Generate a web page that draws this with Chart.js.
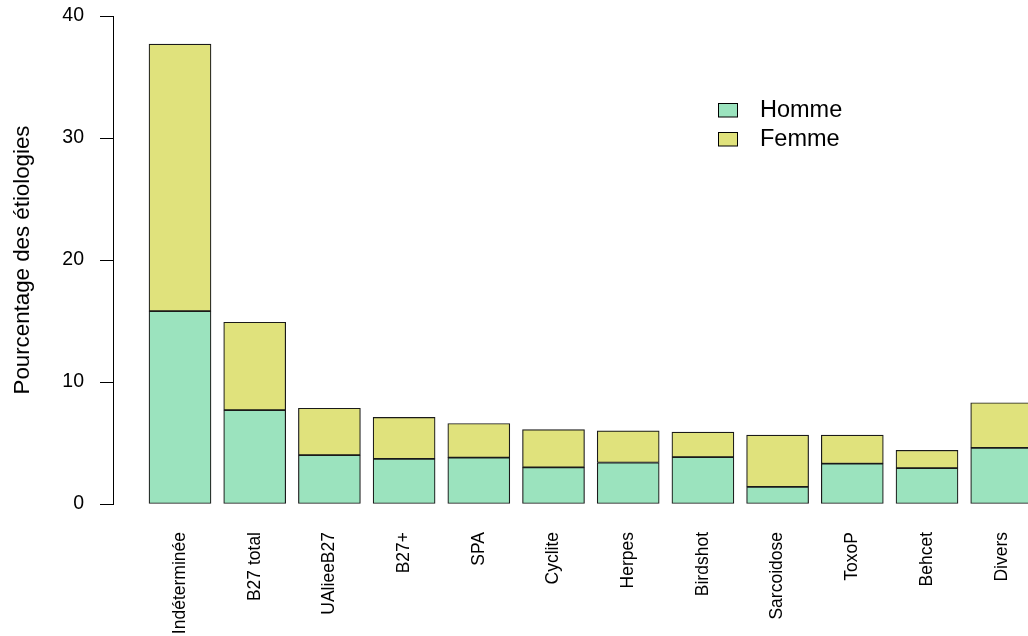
<!DOCTYPE html>
<html>
<head>
<meta charset="utf-8">
<script src="https://cdn.jsdelivr.net/npm/chart.js@4"></script>
<style>
  html, body { margin: 0; padding: 0; background: #fff; overflow: hidden; }
  #wrap { width: 1028px; height: 636px; position: relative; }
</style>
</head>
<body>
<div id="wrap"><canvas id="chart"></canvas></div>
<script>
// Étiologies par sexe — barres empilées (pourcentage)
const categories = ['Indéterminée', 'B27 total', 'UAlieeB27', 'B27+', 'SPA', 'Cyclite',
  'Herpes', 'Birdshot', 'Sarcoidose', 'ToxoP', 'Behcet', 'Divers'];
const homme = [15.8, 7.7, 4.0, 3.7, 3.8, 3.0, 3.4, 3.85, 1.4, 3.3, 2.95, 4.6];
const femme = [21.9, 7.2, 3.85, 3.4, 2.8, 3.1, 2.6, 2.05, 4.25, 2.35, 1.45, 3.7];
const yTicks = [0, 10, 20, 30, 40];

const FONT = 'Liberation Sans, Arial, sans-serif';
const GREEN = 'rgb(155,227,190)';
const YELLOW = 'rgb(224,226,124)';

// R-style legend drawn in the plot area
const legendPlugin = {
  id: 'rLegend',
  afterDraw(chart) {
    const ctx = chart.ctx;
    ctx.save();
    ctx.font = '23.5px ' + FONT;
    ctx.textBaseline = 'middle';
    chart.data.datasets.forEach((ds, i) => {
      const y = 110.5 + i * 29;
      ctx.fillStyle = ds.backgroundColor;
      ctx.fillRect(718.5, y - 7, 19, 13.5);
      ctx.strokeStyle = '#000';
      ctx.lineWidth = 1;
      ctx.strokeRect(718.5, y - 7, 19, 13.5);
      ctx.fillStyle = '#000';
      ctx.fillText(ds.label, 760, y);
    });
    ctx.restore();
  }
};

const toPoints = arr => arr.map((v, i) => ({ x: i, y: v }));

new Chart(document.getElementById('chart'), {
  type: 'bar',
  data: {
    datasets: [
      { label: 'Homme', data: toPoints(homme), backgroundColor: GREEN },
      { label: 'Femme', data: toPoints(femme), backgroundColor: YELLOW }
    ]
  },
  options: {
    responsive: true,
    maintainAspectRatio: false,
    animation: false,
    layout: { padding: { top: 16, right: 0, left: 0, bottom: 0 } },
    datasets: {
      bar: { barThickness: 62, borderColor: '#1a1a1a', borderWidth: 1.2, borderSkipped: false }
    },
    plugins: {
      legend: { display: false },
      tooltip: { enabled: false }
    },
    scales: {
      x: {
        type: 'linear',
        stacked: true,
        offset: false,
        min: -0.897,
        max: 11.352,
        grid: { display: false, drawTicks: false },
        border: { display: false },
        afterBuildTicks: s => { s.ticks = categories.map((_, i) => ({ value: i })); },
        afterFit: s => { s.height = 132; s.paddingLeft = 0; s.paddingRight = 0; },
        ticks: {
          autoSkip: false,
          minRotation: 90,
          maxRotation: 90,
          padding: 28,
          color: '#000',
          font: { family: FONT, size: 17.5 },
          callback: v => categories[v] ?? ''
        }
      },
      y: {
        stacked: true,
        min: 0,
        max: 40,
        afterBuildTicks: s => { s.ticks = yTicks.map(v => ({ value: v })); },
        afterFit: s => { s.width = 113; s.paddingTop = 0; s.paddingBottom = 0; },
        grid: { drawOnChartArea: false, drawTicks: true, tickLength: 13, color: '#000' },
        border: { display: true, color: '#000', width: 1 },
        ticks: { color: '#000', padding: 16, font: { family: FONT, size: 19.5 } },
        title: {
          display: true,
          text: 'Pourcentage des étiologies',
          color: '#000',
          font: { family: FONT, size: 22.3 },
          padding: { top: 9, bottom: 0 }
        }
      }
    }
  },
  plugins: [legendPlugin]
});
</script>
</body>
</html>
